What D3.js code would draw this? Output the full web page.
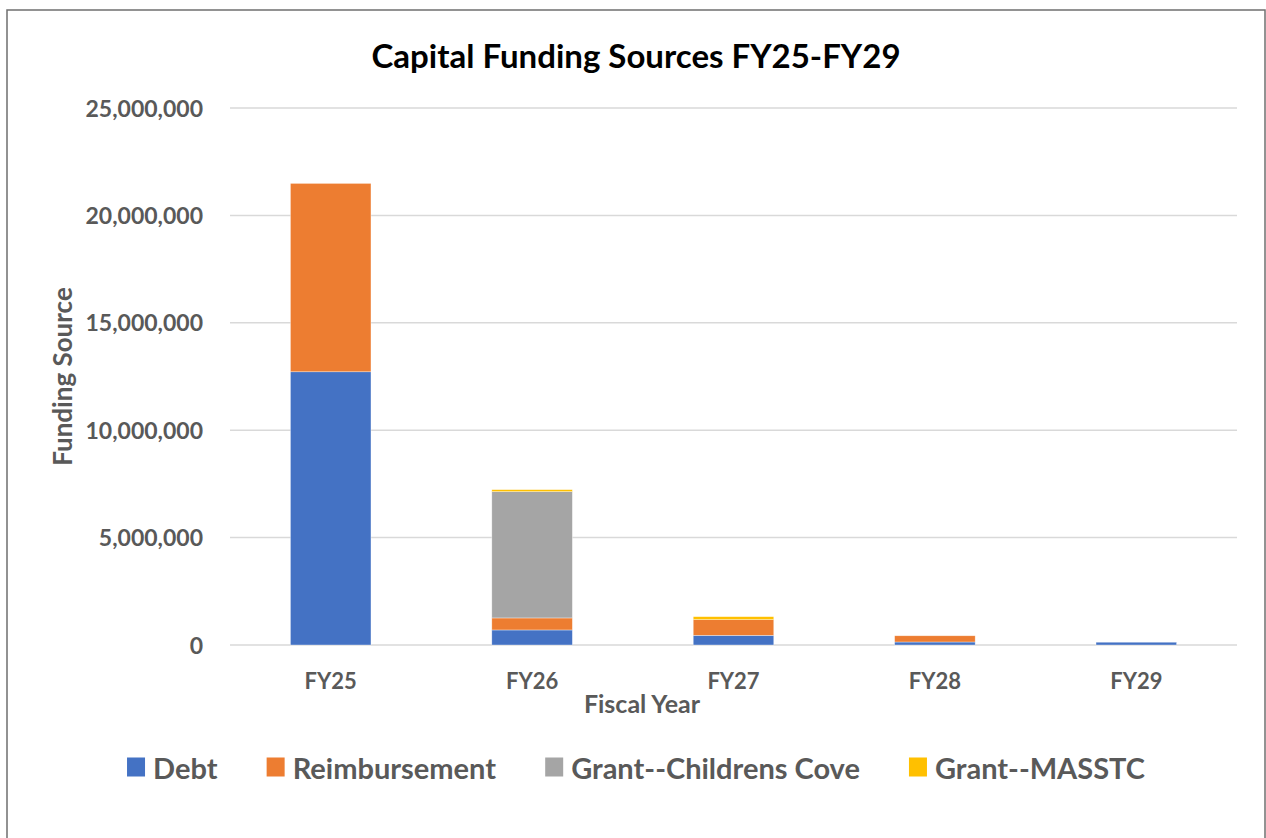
<!DOCTYPE html>
<html>
<head>
<meta charset="utf-8">
<script src="https://cdn.jsdelivr.net/npm/d3@7"></script>
<style>
  html, body { margin: 0; padding: 0; background: #fff; }
  svg { display: block; }
  text { font-family: Lato, "Open Sans", "Liberation Sans", sans-serif; font-weight: bold; }
</style>
</head>
<body>
<svg id="chart" width="1266" height="838"></svg>
<script>
// Capital funding by fiscal year, split by source
const years = ["FY25", "FY26", "FY27", "FY28", "FY29"];
const seriesNames = ["Debt", "Reimbursement", "Grant--Childrens Cove", "Grant--MASSTC"];
const debt = [12720000, 700000, 450000, 140000, 130000];
const reimbursement = [8770000, 560000, 730000, 290000, 0];
const grantChildrensCove = [0, 5880000, 0, 0, 0];
const grantMasstc = [0, 93000, 140000, 0, 0];
const yTicks = [0, 5000000, 10000000, 15000000, 20000000, 25000000];
const colors = ["#4472C4", "#ED7D31", "#A5A5A5", "#FFC000"];

const seriesValues = [debt, reimbursement, grantChildrensCove, grantMasstc];
const rows = years.map((y, i) => {
  const r = { year: y };
  seriesNames.forEach((s, k) => { r[s] = seriesValues[k][i]; });
  return r;
});

const svg = d3.select("#chart");
const plot = { left: 230, right: 1237, top: 108, bottom: 645 };

// chart frame
svg.append("rect")
  .attr("x", 7).attr("y", 10)
  .attr("width", 1258).attr("height", 840)
  .attr("fill", "#fff")
  .attr("stroke", "#6f6f6f").attr("stroke-width", 1.5);

const x = d3.scaleBand().domain(years).range([plot.left, plot.right]).paddingInner(0.6).paddingOuter(0.3);
const y = d3.scaleLinear().domain([0, 25000000]).range([plot.bottom, plot.top]);

// gridlines
svg.append("g").selectAll("line").data(yTicks).join("line")
  .attr("x1", plot.left).attr("x2", plot.right)
  .attr("y1", d => y(d)).attr("y2", d => y(d))
  .attr("stroke", "#d9d9d9").attr("stroke-width", 1.5);

// y axis labels
const yAxis = d3.axisLeft(y).tickValues(yTicks).tickFormat(d3.format(",")).tickSize(0).tickPadding(0);
const yg = svg.append("g").attr("transform", `translate(203,0)`).call(yAxis);
yg.select(".domain").remove();
yg.selectAll("text").attr("fill", "#595959").style("font-size", "23px").attr("dy", "0.35em");

// stacked bars
const stack = d3.stack().keys(seriesNames)(rows);
svg.append("g").selectAll("g").data(stack).join("g")
  .attr("fill", (d, i) => colors[i])
  .selectAll("rect").data(d => d.filter(p => p[1] - p[0] > 0)).join("rect")
  .attr("x", d => x(d.data.year))
  .attr("width", x.bandwidth())
  .attr("y", d => y(d[1]))
  .attr("height", d => y(d[0]) - y(d[1]))
  .attr("stroke", "#fff").attr("stroke-width", 0.6).attr("stroke-opacity", 0.6);

// x axis labels
const xAxis = d3.axisBottom(x).tickSize(0).tickPadding(0);
const xg = svg.append("g").attr("transform", `translate(0,${plot.bottom + 36})`).call(xAxis);
xg.select(".domain").remove();
xg.selectAll("text").attr("fill", "#595959").style("font-size", "22px").attr("dy", "0.35em");

// titles
svg.append("text").attr("x", 636).attr("y", 55)
  .attr("text-anchor", "middle").attr("dominant-baseline", "central")
  .attr("fill", "#000").style("font-size", "33px")
  .text("Capital Funding Sources FY25-FY29");

svg.append("text").attr("x", 642).attr("y", 703)
  .attr("text-anchor", "middle").attr("dominant-baseline", "central")
  .attr("fill", "#595959").style("font-size", "25px")
  .text("Fiscal Year");

svg.append("text")
  .attr("transform", `translate(62,${(plot.top + plot.bottom) / 2}) rotate(-90)`)
  .attr("text-anchor", "middle").attr("dominant-baseline", "central")
  .attr("fill", "#595959").style("font-size", "26px")
  .text("Funding Source");

// legend
const legend = svg.append("g");
const items = legend.selectAll("g").data(seriesNames).join("g");
items.append("rect").attr("width", 18).attr("height", 19).attr("y", -9.5)
  .attr("fill", (d, i) => colors[i]);
items.append("text").attr("x", 26).attr("dominant-baseline", "central")
  .attr("fill", "#595959").style("font-size", "29px").text(d => d);
const gap = 49;
const widths = items.nodes().map(n => n.getBBox().width);
const total = d3.sum(widths) + gap * (widths.length - 1);
let cx = 636 - total / 2;
items.attr("transform", (d, i) => {
  const t = `translate(${cx},767)`;
  cx += widths[i] + gap;
  return t;
});
</script>
</body>
</html>
